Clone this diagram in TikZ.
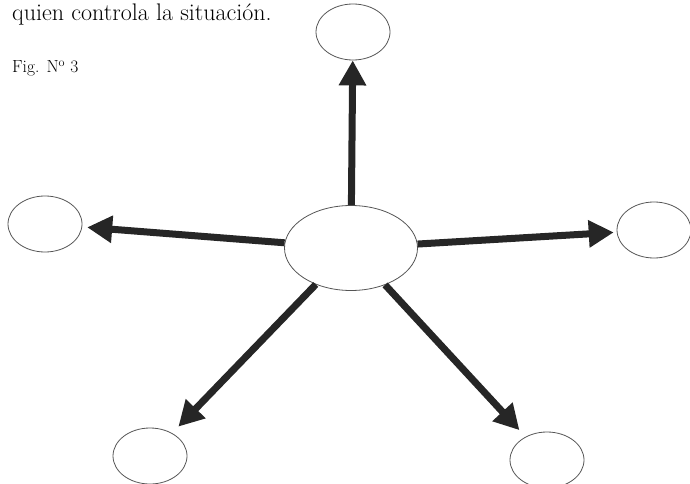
\documentclass[tikz,border=0pt]{standalone}
\usepackage{fontspec}
\usepackage{tikz}
\usetikzlibrary{arrows.meta, positioning, shapes.geometric}
\definecolor{inkgray}{HTML}{555555}
\definecolor{arrowink}{HTML}{262626}

\begin{document}
\begin{tikzpicture}[
            x=1pt, y=-1pt,
            bubble/.style={draw=inkgray, ellipse, line width=0.8pt, inner sep=0pt, minimum width=#1},
            bubble/.default=74pt,
            outer/.style={bubble, minimum height=56pt},
            spoke/.style={-{Triangle[length=25pt, width=26pt]}, line width=7pt, arrowink},
            >=Stealth
        ]
          \useasboundingbox (0,0) rectangle (690,484);
          \node[font=\fontsize{24}{27}\selectfont, anchor=base west, inner sep=0pt] (intro) at (12,21) {quien controla la situación.};
          \node[font=\fontsize{17.5}{20}\selectfont, anchor=base west, inner sep=0pt] (figlabel) at (12,73) {Fig. N\textsuperscript{o} 3};
          \node[bubble=133pt, minimum height=85pt] (hub) at (351,248) {};
          \node[outer] (top) at (353,32) {};
          \node[outer] (west) at (45,224) {};
          \node[outer] (east) at (654,230) {};
          \node[outer] (sw) at (150,456) {};
          \node[outer] (se) at (547,460) {};
          \draw[spoke] (hub) -- (top);
          \draw[spoke, shorten >=5pt] (hub) -- (west);
          \draw[spoke, shorten >=3pt] (hub) -- (east);
          \draw[spoke, shorten >=9pt] (hub) -- (sw);
          \draw[spoke, shorten >=9pt] (hub) -- (se);
        \end{tikzpicture}
\end{document}
